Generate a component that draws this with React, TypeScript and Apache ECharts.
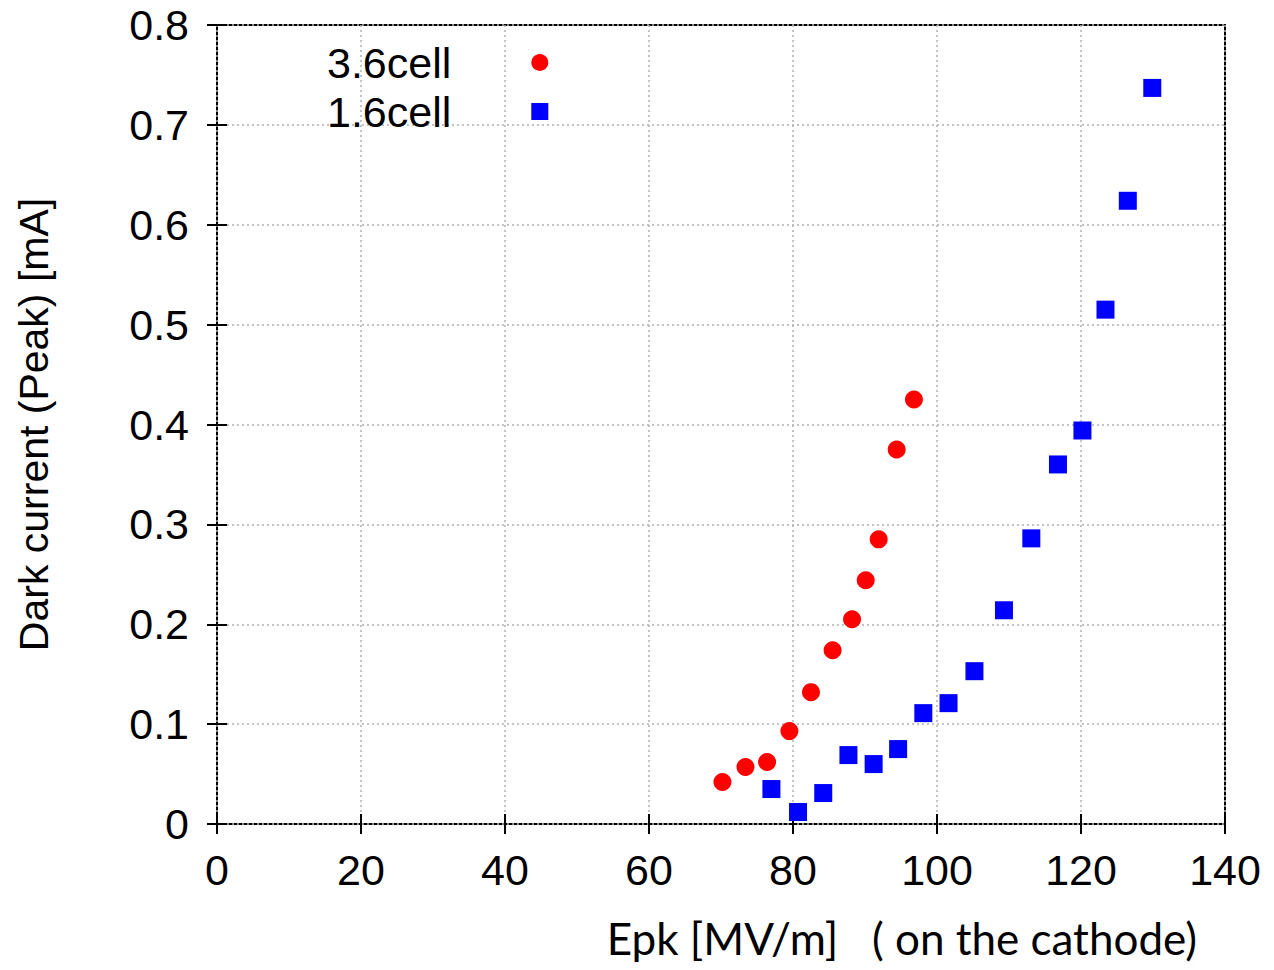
import React, { useEffect, useRef } from "react";
import * as echarts from "echarts";

const series36X = [70.2, 73.4, 76.4, 79.5, 82.5, 85.5, 88.2, 90.1, 91.9, 94.4, 96.8];
const series36Y = [0.042, 0.057, 0.062, 0.093, 0.132, 0.174, 0.205, 0.244, 0.285, 0.375, 0.425];
const series16X = [77.0, 80.7, 84.2, 87.7, 91.2, 94.6, 98.1, 101.6, 105.2, 109.3, 113.1, 116.8, 120.2, 123.4, 126.5, 129.9];
const series16Y = [0.035, 0.012, 0.031, 0.069, 0.06, 0.075, 0.111, 0.121, 0.153, 0.214, 0.286, 0.36, 0.394, 0.515, 0.624, 0.737];
const seriesNames = ["3.6cell", "1.6cell"];
const xTitle = "Epk [MV/m]   ( on the cathode)";
const yTitle = "Dark current (Peak) [mA]";

const FONT = "'Liberation Sans', Arial, sans-serif";

export default function App() {
  const ref = useRef<HTMLDivElement>(null);
  useEffect(() => {
    if (!ref.current) return;
    const chart = echarts.init(ref.current, undefined, { renderer: "svg" });
    const zip = (xs: number[], ys: number[]) => xs.map((x, i) => [x, ys[i]]);
    const tickStyle = { show: true, inside: true, length: 10, lineStyle: { color: "#000", width: 2 } };
    const gridLine = { show: true, lineStyle: { color: "#b0b0b0", type: [2, 3] as any, width: 1.5 } };
    chart.setOption({
      animation: false,
      backgroundColor: "#fff",
      grid: {
        left: 217, right: 49, top: 25, bottom: 146,
        show: true, borderColor: "#000", borderWidth: 2, backgroundColor: "transparent",
      },
      legend: {
        orient: "vertical",
        left: 322,
        top: 36,
        align: "right",
        itemWidth: 17,
        itemHeight: 17,
        itemGap: 6,
        data: seriesNames,
        textStyle: { fontFamily: FONT, fontSize: 43, color: "#000", lineHeight: 42, padding: [0, 75, 0, 0] },
      },
      xAxis: [
        {
          type: "value", min: 0, max: 140, interval: 20,
          axisLine: { show: false }, axisTick: tickStyle, splitLine: gridLine,
          axisLabel: { fontFamily: FONT, fontSize: 43, color: "#000", margin: 24 },
        },
        {
          type: "value", position: "top", min: 0, max: 140, interval: 20,
          axisLine: { show: false }, axisTick: tickStyle, splitLine: { show: false },
          axisLabel: { show: false },
        },
      ],
      yAxis: [
        {
          type: "value", min: 0, max: 0.8, interval: 0.1,
          axisLine: { show: false }, axisTick: tickStyle, splitLine: gridLine,
          axisLabel: { fontFamily: FONT, fontSize: 43, color: "#000", margin: 28, formatter: (v: number) => (v === 0 ? "0" : String(+v.toFixed(1))) },
          name: yTitle, nameLocation: "middle", nameGap: 163,
          nameTextStyle: { fontFamily: FONT, fontSize: 41, color: "#000" },
        },
        {
          type: "value", position: "right", min: 0, max: 0.8, interval: 0.1,
          axisLine: { show: false }, axisTick: tickStyle, splitLine: { show: false },
          axisLabel: { show: false },
        },
      ],
      graphic: [
        {
          type: "text", right: 1274 - 1197, top: 916,
          style: { text: xTitle, fontFamily: "Lato, 'Open Sans', sans-serif", fontSize: 44, fill: "#000" },
        },
      ],
      series: [
        {
          name: seriesNames[0], type: "scatter", symbol: "circle", symbolSize: 18,
          itemStyle: { color: "#ff0000", opacity: 1 }, data: zip(series36X, series36Y),
        },
        {
          name: seriesNames[1], type: "scatter", symbol: "rect", symbolSize: 18,
          itemStyle: { color: "#0000ff", opacity: 1 }, data: zip(series16X, series16Y),
        },
      ],
    });
    return () => chart.dispose();
  }, []);
  return <div ref={ref} style={{ width: 1274, height: 970, margin: -8 }} />;
}
